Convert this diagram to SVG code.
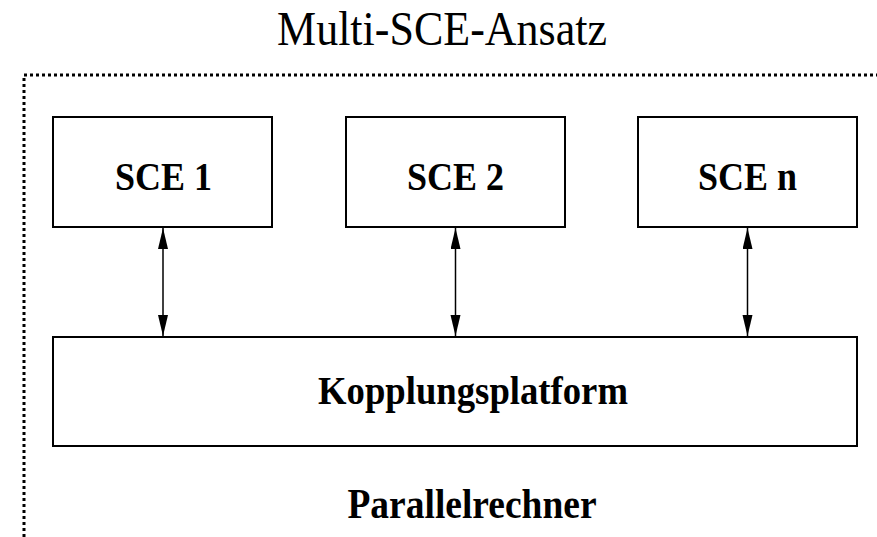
<svg xmlns="http://www.w3.org/2000/svg" width="877" height="537" viewBox="0 0 877 537">
  <style>
    .box { fill: #ffffff; stroke: #000000; stroke-width: 2; }
    .lbl { font-family: "Liberation Serif", "Times New Roman", serif; font-weight: bold; font-size: 36px; fill: #000000; text-anchor: middle; }
    .title { font-family: "Liberation Serif", "Times New Roman", serif; font-size: 44px; fill: #000000; text-anchor: middle; }
    .conn { stroke: #000000; stroke-width: 1.5; fill: none; marker-start: url(#arr); marker-end: url(#arr); }
    .frame { fill: none; stroke: #000000; stroke-width: 3; stroke-dasharray: 3 3; }
  </style>
  <defs>
    <marker id="arr" markerUnits="userSpaceOnUse" markerWidth="22" markerHeight="11" refX="21" refY="5" orient="auto-start-reverse">
      <path d="M0,0 L21,5 L0,10 z" fill="#000000"/>
    </marker>
  </defs>
  <rect width="877" height="537" fill="#ffffff"/>
  <text class="title" transform="translate(442,45) scale(1,1.1)">Multi-SCE-Ansatz</text>
  <g id="parallelrechner">
    <path class="frame" d="M24,537 V75 H877"/>
    <text class="lbl" transform="translate(472,518) scale(1,1.12)" style="font-size:37.5px">Parallelrechner</text>
  </g>
  <g id="sce1">
    <rect class="box" x="53" y="117" width="219" height="110"/>
    <text class="lbl" transform="translate(163.5,190) scale(1,1.12)">SCE 1</text>
  </g>
  <g id="sce2">
    <rect class="box" x="346" y="117" width="219" height="110"/>
    <text class="lbl" transform="translate(455.5,190) scale(1,1.12)">SCE 2</text>
  </g>
  <g id="scen">
    <rect class="box" x="638" y="117" width="219" height="110"/>
    <text class="lbl" transform="translate(747.5,190) scale(1,1.12)">SCE n</text>
  </g>
  <g id="kopplungsplatform">
    <rect class="box" x="53" y="337" width="804" height="109"/>
    <text class="lbl" transform="translate(473,404) scale(1,1.12)" style="font-size:36.7px">Kopplungsplatform</text>
  </g>
  <g id="connectors">
    <line class="conn" x1="163" y1="228" x2="163" y2="336"/>
    <line class="conn" x1="455.5" y1="228" x2="455.5" y2="336"/>
    <line class="conn" x1="747.5" y1="228" x2="747.5" y2="336"/>
  </g>
</svg>
